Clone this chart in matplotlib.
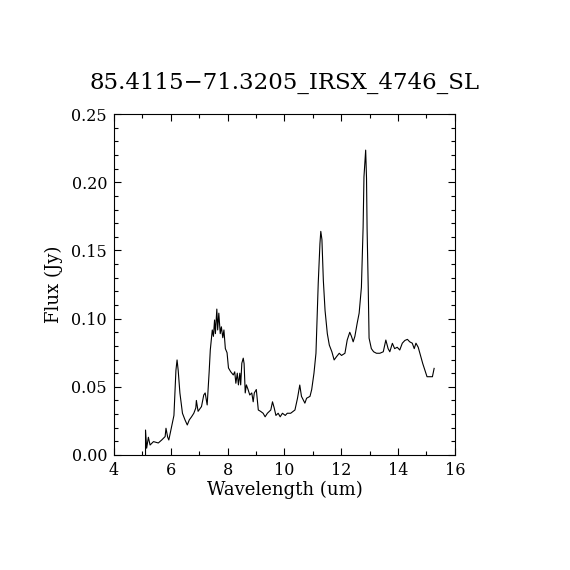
import matplotlib
matplotlib.use('Agg')
import matplotlib.pyplot as plt
from matplotlib.ticker import MultipleLocator, FormatStrFormatter

# spectrum
wavelength = [5.11, 5.11, 5.15, 5.21, 5.27, 5.39, 5.56, 5.68, 5.80, 5.83, 5.89, 5.93, 5.99,
              6.06, 6.11, 6.18, 6.22, 6.26, 6.32, 6.41, 6.50, 6.58, 6.65, 6.73, 6.81, 6.88,
              6.90, 6.96, 7.08, 7.16, 7.21, 7.28, 7.35, 7.39, 7.46, 7.50, 7.54, 7.57, 7.62,
              7.65, 7.69, 7.74, 7.78, 7.83, 7.87, 7.92, 7.98, 8.03, 8.11, 8.20, 8.25, 8.29,
              8.34, 8.38, 8.43, 8.46, 8.50, 8.55, 8.58, 8.62, 8.66, 8.72, 8.78, 8.85, 8.90,
              8.94, 9.01, 9.08, 9.16, 9.25, 9.32, 9.40, 9.52, 9.58, 9.64, 9.70, 9.78, 9.85,
              9.93, 10.03, 10.10, 10.22, 10.37, 10.46, 10.54, 10.60, 10.72, 10.78, 10.90,
              10.96, 11.04, 11.11, 11.19, 11.25, 11.28, 11.32, 11.37, 11.43, 11.51, 11.58,
              11.67, 11.75, 11.83, 11.93, 12.01, 12.13, 12.21, 12.30, 12.36, 12.42, 12.48,
              12.56, 12.63, 12.71, 12.77, 12.80, 12.86, 12.89, 12.91, 12.95, 12.98, 13.06,
              13.14, 13.24, 13.36, 13.48, 13.57, 13.65, 13.71, 13.80, 13.88, 13.97, 14.06,
              14.15, 14.24, 14.33, 14.41, 14.50, 14.57, 14.63, 14.71, 14.77, 14.87, 14.95,
              15.02, 15.21, 15.27]
flux = [0.000, 0.0183, 0.005, 0.013, 0.0073, 0.0098, 0.0088, 0.011, 0.0135, 0.0196, 0.013,
        0.011, 0.017, 0.024, 0.029, 0.062, 0.0697, 0.062, 0.0455, 0.0306, 0.0257, 0.022,
        0.0257, 0.028, 0.0306, 0.0345, 0.040, 0.032, 0.0355, 0.044, 0.0455, 0.0367, 0.061,
        0.077, 0.0917, 0.087, 0.099, 0.089, 0.107, 0.0917, 0.104, 0.089, 0.094, 0.086,
        0.0917, 0.078, 0.075, 0.0638, 0.061, 0.0587, 0.061, 0.0526, 0.060, 0.0514, 0.060,
        0.0514, 0.0673, 0.071, 0.067, 0.0455, 0.0514, 0.048, 0.044, 0.0455, 0.039, 0.0455,
        0.048, 0.033, 0.032, 0.0306, 0.028, 0.0306, 0.033, 0.039, 0.0345, 0.029, 0.0306,
        0.028, 0.0306, 0.029, 0.0306, 0.0306, 0.033, 0.0416, 0.0513, 0.043, 0.038, 0.0416,
        0.043, 0.048, 0.060, 0.0746, 0.126, 0.155, 0.164, 0.158, 0.128, 0.106, 0.089,
        0.0806, 0.0757, 0.0697, 0.072, 0.0746, 0.073, 0.0746, 0.0843, 0.090, 0.087, 0.083,
        0.087, 0.0965, 0.104, 0.123, 0.167, 0.204, 0.2236, 0.203, 0.166, 0.123, 0.0857,
        0.078, 0.0757, 0.0746, 0.0746, 0.0757, 0.0843, 0.078, 0.0757, 0.0819, 0.078, 0.079,
        0.077, 0.082, 0.084, 0.0848, 0.083, 0.082, 0.078, 0.082, 0.079, 0.0746, 0.067,
        0.062, 0.0574, 0.0574, 0.0635]

title = '85.4115\u221271.3205_IRSX_4746_SL'

plt.rcParams['font.family'] = ['DejaVu Serif', 'DejaVu Sans']

fig = plt.figure(figsize=(5.7, 5.7), dpi=100)
ax = fig.add_axes([0.2, 0.2018, 0.598, 0.598])

ax.plot(wavelength, flux, color='black', linewidth=0.8)

ax.set_xlim(4, 16)
ax.set_ylim(0, 0.25)
ax.xaxis.set_major_locator(MultipleLocator(2))
ax.xaxis.set_minor_locator(MultipleLocator(1))
ax.yaxis.set_major_locator(MultipleLocator(0.05))
ax.yaxis.set_minor_locator(MultipleLocator(0.01))
ax.yaxis.set_major_formatter(FormatStrFormatter('%.2f'))
ax.tick_params(which='both', direction='in', top=True, right=True, width=0.8, labelsize=11.5)
ax.tick_params(which='major', length=5)
ax.tick_params(which='minor', length=3)
ax.tick_params(axis='x', pad=5)
ax.tick_params(axis='y', pad=5)
for s in ax.spines.values():
    s.set_linewidth(0.8)

ax.set_xlabel('Wavelength (um)', fontsize=13, labelpad=1)
ax.set_ylabel('Flux (Jy)', fontsize=13, labelpad=6)
ax.set_title(title, fontsize=16.5, pad=18)

fig.savefig('out.png', dpi=100)
